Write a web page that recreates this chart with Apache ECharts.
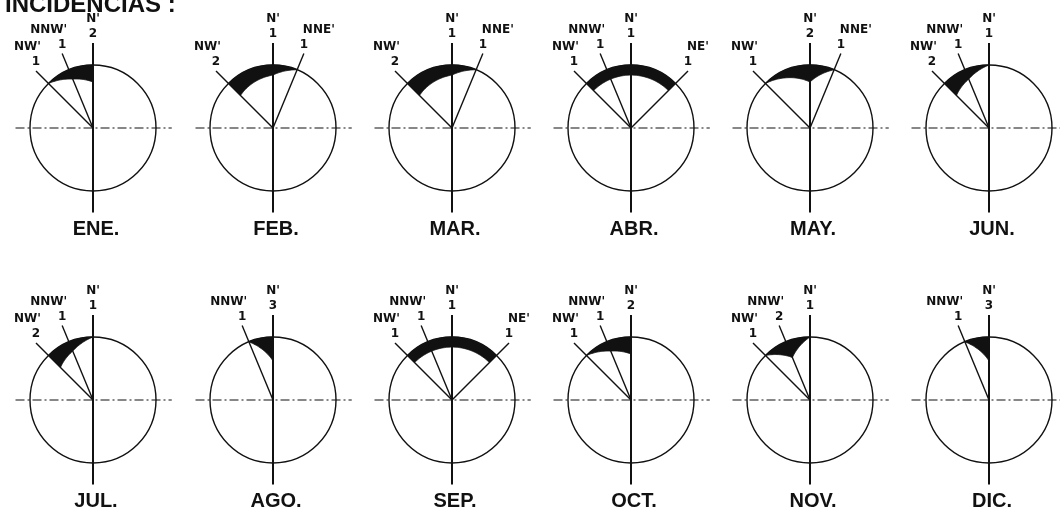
<!DOCTYPE html>
<html>
<head>
<meta charset="utf-8">
<style>
  html, body { margin: 0; padding: 0; background: #ffffff; }
  #chart { width: 1060px; height: 509px; }
</style>
<script src="https://cdn.jsdelivr.net/npm/echarts@6/dist/echarts.min.js"></script>
</head>
<body>
<div id="chart"></div>
<script>
// ---- data ----
const months = ['ENE.', 'FEB.', 'MAR.', 'ABR.', 'MAY.', 'JUN.', 'JUL.', 'AGO.', 'SEP.', 'OCT.', 'NOV.', 'DIC.'];
const dirNames = ["NW'", "NNW'", "N'", "NNE'", "NE'"];
const dirAngles = [-45, -22.5, 0, 22.5, 45];
// incidences per direction, one value per month (0 = none)
const countNW  = [1, 2, 2, 1, 1, 2, 2, 0, 1, 1, 1, 0];
const countNNW = [1, 0, 0, 1, 0, 1, 1, 1, 1, 1, 2, 1];
const countN   = [2, 1, 1, 1, 2, 1, 1, 3, 1, 2, 1, 3];
const countNNE = [0, 1, 1, 0, 1, 0, 0, 0, 0, 0, 0, 0];
const countNE  = [0, 0, 0, 1, 0, 0, 0, 0, 1, 0, 0, 0];
const mainTitle = 'INCIDENCIAS :';

// ---- layout ----
const colX = [93, 273, 452, 631, 810, 989];
const rowY = [128, 400];
const R = 63;
const INK = '#111111';
const LINE_R = 1.28, N_LINE_R = 1.35;
const countsByDir = [countNW, countNNW, countN, countNNE, countNE];

function bandT(c) { return 0.05 + 0.11 * c; }

const polar = [], angleAxis = [], radiusAxis = [], series = [];

months.forEach(function (mName, m) {
  const dirs = [];
  dirNames.forEach(function (nm, j) {
    const c = countsByDir[j][m];
    if (c > 0) dirs.push({ name: nm, ang: dirAngles[j], cnt: c });
  });
  polar.push({ center: [colX[m % 6], rowY[Math.floor(m / 6)]], radius: R });
  angleAxis.push({
    polarIndex: m, type: 'value', min: -180, max: 180, startAngle: -90, clockwise: true,
    axisLine: { show: true, lineStyle: { color: INK, width: 1.4 } },
    axisTick: { show: false }, axisLabel: { show: false }, splitLine: { show: false }
  });
  radiusAxis.push({ polarIndex: m, type: 'value', min: 0, max: 1, show: false });

  const maxC = Math.max.apply(null, dirs.map(function (d) { return d.cnt; }));
  const angs = dirs.map(function (d) { return d.ang; });
  const ts = dirs.map(function (d, k) {
    if ((k === 0 || k === dirs.length - 1) && d.cnt < maxC) return 0;
    return bandT(d.cnt);
  });
  function tAt(a) {
    for (let j = 0; j < angs.length - 1; j++) {
      if (a >= angs[j] && a <= angs[j + 1]) {
        return ts[j] + (ts[j + 1] - ts[j]) * (a - angs[j]) / (angs[j + 1] - angs[j]);
      }
    }
    return ts[ts.length - 1];
  }

  series.push({
    type: 'custom',
    coordinateSystem: 'polar',
    polarIndex: m,
    clip: false,
    silent: true,
    data: dirs.map(function (d) { return [d.cnt, d.ang]; }),
    renderItem: function (params, api) {
      const k = params.dataIndex;
      const ang = api.value(1);
      const cnt = api.value(0);
      const d = dirs[k];
      const P = function (r, a) { return api.coord([r, a]); };
      const children = [];
      if (k === 0) {
        // black band
        const pts = [];
        const a0 = angs[0], a1 = angs[angs.length - 1];
        for (let a = a0; a < a1; a += 1) pts.push(P(1, a));
        pts.push(P(1, a1));
        for (let a = a1; a > a0; a -= 1) pts.push(P(1 - tAt(a), a));
        pts.push(P(1 - tAt(a0), a0));
        children.push({ type: 'polygon', shape: { points: pts }, style: { fill: INK, stroke: INK, lineWidth: 0.8 } });
        // cross lines
        const w = P(1.23, -90), e = P(1.25, 90), n = P(N_LINE_R, 0), s = P(1.34, 180);
        children.push({ type: 'line', shape: { x1: w[0], y1: w[1], x2: e[0], y2: e[1] },
          style: { stroke: INK, lineWidth: 1.2, lineDash: [9, 3, 2, 3] } });
        children.push({ type: 'line', shape: { x1: n[0], y1: n[1], x2: s[0], y2: s[1] },
          style: { stroke: INK, lineWidth: 2 } });
        // month label
        const c0 = P(0, 0);
        children.push({ type: 'text', x: c0[0] + 3, y: c0[1] + 101,
          style: { text: mName, fill: INK, font: 'bold 20px "Liberation Sans"',
            align: 'center', verticalAlign: 'middle', textAlign: 'center', textVerticalAlign: 'middle' } });
      }
      // radial line
      const o = P(0, ang), en = P(ang === 0 ? N_LINE_R : LINE_R, ang);
      if (ang !== 0) {
        children.push({ type: 'line', shape: { x1: o[0], y1: o[1], x2: en[0], y2: en[1] },
          style: { stroke: INK, lineWidth: 1.4 } });
      }
      // count label
      const cx = en[0], cy = en[1] - 9;
      children.push({ type: 'text', x: cx, y: cy,
        style: { text: String(cnt), fill: INK, font: 'bold 12px "DejaVu Sans"',
          align: 'center', verticalAlign: 'middle', textAlign: 'center', textVerticalAlign: 'middle' } });
      // direction name
      let nx = cx, al = 'center';
      if (ang < 0) { nx = cx + 5; al = 'right'; }
      else if (ang > 0) { nx = cx - 1; al = 'left'; }
      children.push({ type: 'text', x: nx, y: cy - 15,
        style: { text: d.name, fill: INK, font: 'bold 12px "DejaVu Sans"',
          align: al, verticalAlign: 'middle', textAlign: al, textVerticalAlign: 'middle' } });
      return { type: 'group', children: children };
    }
  });
});

const chart = echarts.init(document.getElementById('chart'), null, { renderer: 'canvas' });
chart.setOption({
  backgroundColor: '#ffffff',
  animation: false,
  title: {
    text: mainTitle, left: 0, top: -12,
    textStyle: { color: INK, fontSize: 24, fontWeight: 'bold', fontFamily: 'Liberation Sans' }
  },
  polar: polar,
  angleAxis: angleAxis,
  radiusAxis: radiusAxis,
  series: series
});
</script>
</body>
</html>
